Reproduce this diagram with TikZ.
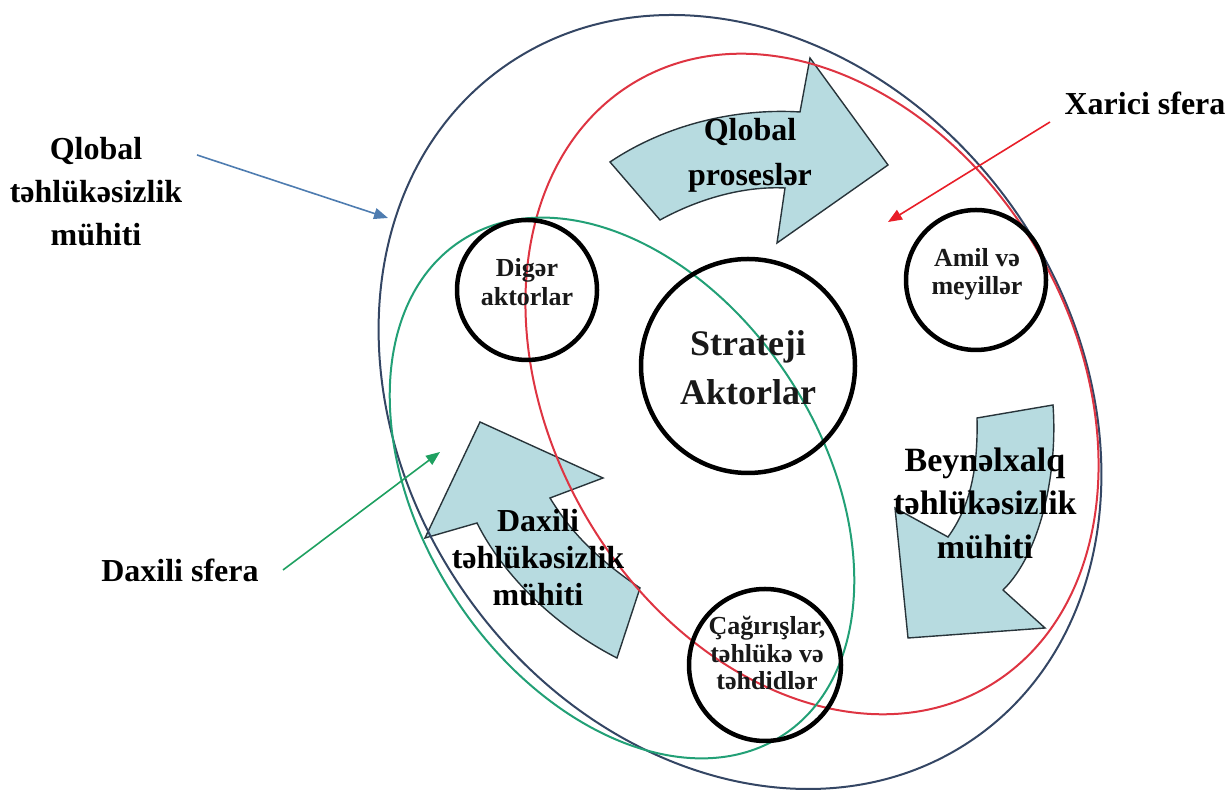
\documentclass[tikz,border=0pt]{standalone}
\usepackage{fontspec}
\setmainfont{Liberation Serif}
\usetikzlibrary{arrows.meta}
\definecolor{globalring}{RGB}{52,70,100}
\definecolor{outerring}{RGB}{222,52,66}
\definecolor{innerring}{RGB}{34,160,118}
\definecolor{ptrblue}{RGB}{78,124,176}
\definecolor{ptrred}{RGB}{232,30,40}
\definecolor{ptrgreen}{RGB}{30,160,96}
\definecolor{bandfill}{RGB}{183,219,224}
\definecolor{bandline}{RGB}{40,52,58}
\begin{document}
\begin{tikzpicture}[x=1pt,y=1pt,
  band/.style={fill=bandfill, draw=bandline, line width=1.4pt, line join=miter},
  actor/.style={circle, draw=black, line width=4.5pt, inner sep=0pt},
  caption/.style={align=center, inner sep=0pt, text=black!90},
  lbl/.style={align=center, font=\bfseries\fontsize{32}{43}\selectfont},
  ptr/.style={line width=1.6pt, -{Triangle[length=14pt,width=11pt]}}]
\useasboundingbox (0,0) rectangle (1229,794);

% curved block arrows
\path[band] (610,632) -- (660,574)
  .. controls (700,596) and (745,608) .. (785,606)
  -- (777,551) -- (888,629) -- (810,736) -- (800,682)
  .. controls (735,686) and (665,669) .. cycle;
\path[band] (977,376) -- (1053,389)
  .. controls (1058,320) and (1040,240) .. (1003,204)
  -- (1045,166) -- (908,156) -- (895,286) -- (948,257)
  .. controls (972,290) and (978,330) .. cycle;
\path[band] (480,372) -- (603,316) -- (550,296)
  .. controls (575,255) and (605,230) .. (640,206)
  -- (617,136)
  .. controls (560,165) and (505,215) .. (477,271)
  -- (425,256) -- cycle;

% spheres
\draw[globalring, line width=2pt, rotate around={-55:(740,392)}]
  (740,392) ellipse [x radius=410, y radius=335];
\draw[outerring, line width=2pt, rotate around={-60:(812,410)}]
  (812,410) ellipse [x radius=350, y radius=262];
\draw[innerring, line width=2pt, rotate around={-57:(622,306)}]
  (622,306) ellipse [x radius=295, y radius=200];

% actors
\node[actor, minimum size=214pt] (strat) at (748,428) {};
\node[actor, minimum size=140pt] (diger) at (527,504) {};
\node[actor, minimum size=140pt] (amil) at (976,514) {};
\node[actor, minimum size=152pt] (cag) at (765,129) {};
\node[caption, font=\bfseries\fontsize{36}{49}\selectfont] (stratT) at (748,426.5) {Strateji\\Aktorlar};
\node[caption, font=\bfseries\fontsize{26}{29}\selectfont] (digerT) at (527,511.5) {Digər\\aktorlar};
\node[caption, font=\bfseries\fontsize{26}{28}\selectfont] (amilT) at (977,520) {Amil və\\meyillər};
\node[caption, font=\bfseries\fontsize{26}{27.5}\selectfont] (cagT) at (767,141) {Çağırışlar,\\təhlükə və\\təhdidlər};

% band captions
\node[lbl, font=\bfseries\fontsize{32}{45}\selectfont] (qp) at (750,638.5) {Qlobal\\proseslər};
\node[lbl, font=\bfseries\fontsize{34}{43.5}\selectfont] (bt) at (985,291) {Beynəlxalq\\təhlükəsizlik\\mühiti};
\node[lbl, font=\bfseries\fontsize{32}{37}\selectfont] (dt) at (538,236) {Daxili\\təhlükəsizlik\\mühiti};

% sphere labels with pointers
\node[lbl] (qt) at (96,602) {Qlobal\\təhlükəsizlik\\mühiti};
\node[lbl] (xs) at (1145,691) {Xarici sfera};
\node[lbl] (ds) at (180,224) {Daxili sfera};

\coordinate (qtFrom) at (197,639);
\coordinate (qtTo) at (388,576);
\coordinate (xsFrom) at (1050,672);
\coordinate (xsTo) at (888,572);
\coordinate (dsFrom) at (283,224);
\coordinate (dsTo) at (440,342);
\draw[ptr, ptrblue] (qtFrom) -- (qtTo);
\draw[ptr, ptrred] (xsFrom) -- (xsTo);
\draw[ptr, ptrgreen] (dsFrom) -- (dsTo);
\end{tikzpicture}
\end{document}
